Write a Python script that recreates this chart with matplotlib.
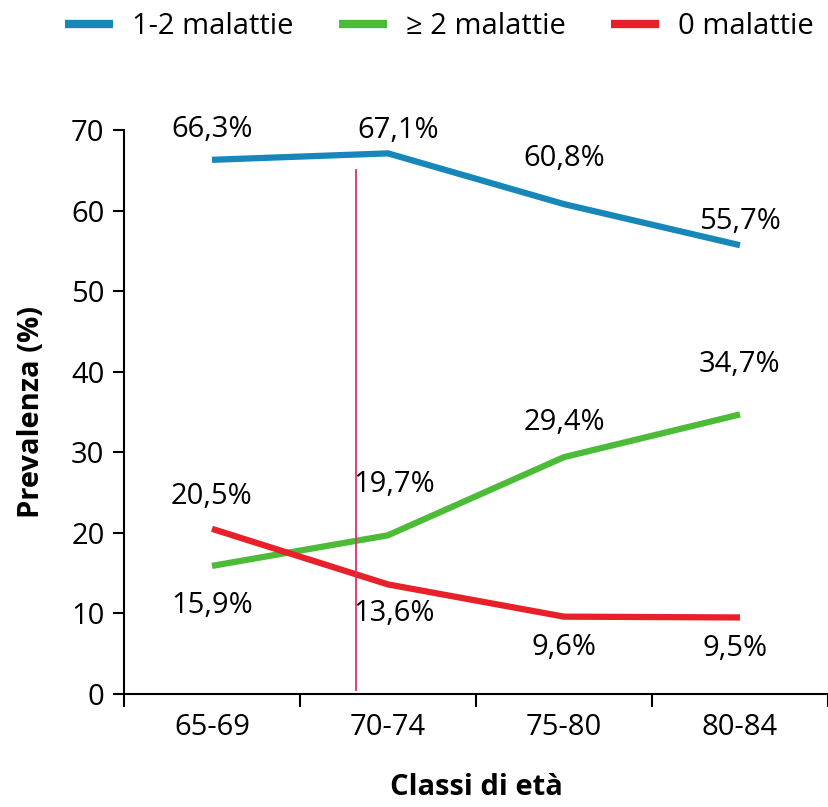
import matplotlib.pyplot as plt

classi = ["65-69", "70-74", "75-80", "80-84"]
una_due = [66.3, 67.1, 60.8, 55.7]
due_piu = [15.9, 19.7, 29.4, 34.7]
zero = [20.5, 13.6, 9.6, 9.5]

# label offsets in pixels (dx, dy) for each series
off_blu = [(0, 30), (10, 23), (0, 46), (0, 24)]
off_verde = [(0, -40), (6, 51), (0, 35), (0, 50)]
off_rosso = [(0, 32), (6, -29), (0, -31), (-5, -31)]

# thin vertical guide line
guida_x = 0.82
guida_y = (0.5, 65)

plt.rcParams['font.family'] = ['Open Sans', 'DejaVu Sans']
fs = 21

fig = plt.figure(figsize=(8.29, 8.07), dpi=100)
ax = fig.add_axes([124 / 829, 113 / 807, 704 / 829, 564 / 807])

x = list(range(len(classi)))
blu, = ax.plot(x, una_due, color="#1787ba", lw=4.5, solid_capstyle="butt", label="1-2 malattie")
verde, = ax.plot(x, due_piu, color="#4cbb38", lw=4.5, solid_capstyle="butt", label="≥ 2 malattie")
rosso, = ax.plot(x, zero, color="#e8202a", lw=4.5, solid_capstyle="butt", label="0 malattie")

ax.plot([guida_x, guida_x], guida_y, color="#e0306a", lw=1.3)

for vals, offs in [(una_due, off_blu), (due_piu, off_verde), (zero, off_rosso)]:
    for i, (v, (dx, dy)) in enumerate(zip(vals, offs)):
        ax.annotate(f"{v:.1f}%".replace(".", ","), (i, v), xytext=(dx * 0.72, dy * 0.72),
                    textcoords="offset points", ha="center", va="center", fontsize=fs)

ax.set_xlim(-0.5, 3.5)
ax.set_ylim(0, 70)
ax.set_yticks(range(0, 71, 10))
ax.set_xticks([-0.5, 0.5, 1.5, 2.5, 3.5])
ax.set_xticklabels([])
ax.set_xticks(x, minor=True)
ax.set_xticklabels(classi, minor=True, fontsize=fs)
ax.tick_params(axis="x", which="major", length=9, width=1.5, direction="out")
ax.tick_params(axis="x", which="minor", length=0, pad=14)
ax.tick_params(axis="y", length=8, width=1.5, labelsize=fs, pad=6)

for s in ["top", "right"]:
    ax.spines[s].set_visible(False)
for s in ["left", "bottom"]:
    ax.spines[s].set_linewidth(1.5)

ax.set_xlabel("Classi di età", fontsize=fs, fontweight="bold", labelpad=22)
ax.set_ylabel("Prevalenza (%)", fontsize=fs, fontweight="bold", labelpad=18)

fig.legend(handles=[blu, verde, rosso], loc="upper center", bbox_to_anchor=(0.53, 1.018),
           ncol=3, frameon=False, fontsize=fs, handlelength=1.65, handletextpad=0.65,
           columnspacing=1.55)
for h in fig.legends[0].legend_handles:
    h.set_linewidth(6)

fig.savefig("out.png", dpi=100)
